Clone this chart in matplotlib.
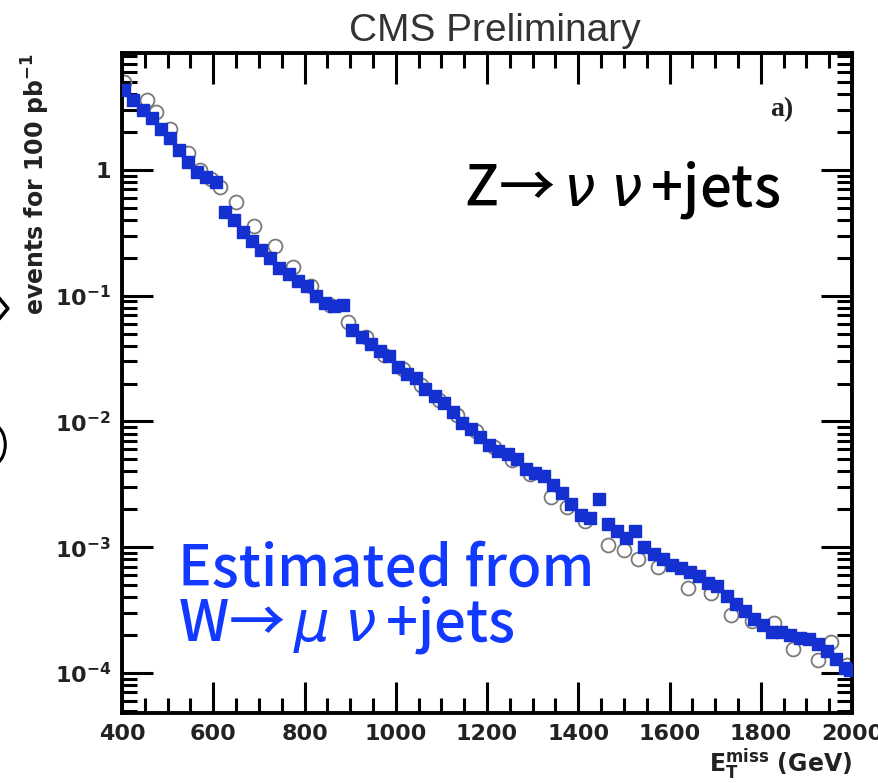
import math

import matplotlib

matplotlib.use("Agg")

import matplotlib.pyplot as plt
from matplotlib import ticker
from matplotlib.lines import Line2D
from matplotlib.patches import Arc

# Missing-ET spectrum: blue = estimate from W->mu nu + jets, open = Z->nu nu + jets MC
met_est = [405, 425, 445, 465, 485, 505, 525, 545, 565, 585,
           605, 625, 645, 665, 685, 705, 725, 745, 765, 785,
           805, 825, 845, 865, 885, 905, 925, 945, 965, 985,
           1005, 1025, 1045, 1065, 1085, 1105, 1125, 1145, 1165, 1185,
           1205, 1225, 1245, 1265, 1285, 1305, 1325, 1345, 1365, 1385,
           1405, 1425, 1445, 1465, 1485, 1505, 1525, 1545, 1565, 1585,
           1605, 1625, 1645, 1665, 1685, 1705, 1725, 1745, 1765, 1785,
           1805, 1825, 1845, 1865, 1885, 1905, 1925, 1945, 1965, 1985, 1995]
events_est = [4.3, 3.6, 3.0, 2.6, 2.1, 1.8, 1.45, 1.15, 0.97, 0.88,
              0.80, 0.46, 0.40, 0.32, 0.27, 0.23, 0.20, 0.165, 0.148, 0.13,
              0.12, 0.10, 0.088, 0.082, 0.085, 0.053, 0.047, 0.041, 0.036, 0.033,
              0.027, 0.024, 0.022, 0.018, 0.0158, 0.0140, 0.0118, 0.0098, 0.0087, 0.0075,
              0.0065, 0.0058, 0.0055, 0.0050, 0.0042, 0.0039, 0.0037, 0.0031, 0.0027, 0.0022,
              0.0018, 0.0017, 0.0024, 0.00152, 0.00135, 0.00118, 0.00135, 0.00100, 0.00088, 0.00080,
              0.00072, 0.00068, 0.00063, 0.00059, 0.00052, 0.00049, 0.00041, 0.00035, 0.00031, 0.00027,
              0.00024, 0.00021, 0.00021, 0.00020, 0.00019, 0.000185, 0.00017, 0.000150, 0.000128,
              0.000110, 0.000105]

met_mc = [405, 455, 475, 505, 545, 570, 595, 615, 650, 690,
          735, 775, 815, 855, 895, 935, 975, 1015, 1055, 1095,
          1135, 1175, 1215, 1255, 1295, 1340, 1375, 1415, 1465, 1500,
          1530, 1575, 1640, 1690, 1735, 1780, 1830, 1870, 1925, 1955, 1990]
events_mc = [5.0, 3.6, 2.9, 2.1, 1.37, 1.0, 0.85, 0.73, 0.56, 0.36,
             0.25, 0.17, 0.12, 0.085, 0.062, 0.047, 0.034, 0.026, 0.0195, 0.0148,
             0.0112, 0.0084, 0.0063, 0.0049, 0.0038, 0.0025, 0.0021, 0.0016, 0.00104, 0.00095,
             0.00080, 0.00070, 0.00047, 0.00043, 0.00029, 0.00026, 0.00025, 0.000155, 0.000126,
             0.000175, 0.000115]

x_ticks = [400, 600, 800, 1000, 1200, 1400, 1600, 1800, 2000]

ROOT_INK = "#222222"
EST_BLUE = "#1530d0"
NOTE_BLUE = "#1239ff"

plt.rcParams["mathtext.fontset"] = "dejavusans"

fig = plt.figure(figsize=(8.79, 7.83), dpi=100)
ax = fig.add_axes([0.1388, 0.0894, 0.8305, 0.8429])

ax.plot(met_mc, events_mc, "o", mfc="none", mec="#7a7a7a", mew=1.3, ms=10, zorder=2)
ax.errorbar(met_est, events_est, xerr=10, fmt="s", color=EST_BLUE, ms=8,
            elinewidth=3, capsize=0, zorder=3)

ax.set_yscale("log")
ax.set_xlim(400, 2000)
ax.set_ylim(4.8e-5, 8.5)

ax.set_xticks(x_ticks)
ax.xaxis.set_minor_locator(ticker.MultipleLocator(50))
ax.yaxis.set_major_locator(ticker.LogLocator(base=10, numticks=10))
ax.yaxis.set_minor_locator(ticker.LogLocator(base=10, subs=range(2, 10), numticks=20))
ax.yaxis.set_minor_formatter(ticker.NullFormatter())


def _decade(v, _pos):
    if abs(v - 1) < 1e-9:
        return "1"
    return r"$\mathbf{10^{%d}}$" % int(round(math.log10(v)))


ax.yaxis.set_major_formatter(ticker.FuncFormatter(_decade))

ax.tick_params(which="both", direction="in", top=True, right=True,
               width=2.2, color="black", labelsize=16, labelcolor=ROOT_INK)
ax.tick_params(which="major", length=22, pad=8)
ax.tick_params(which="minor", length=11)
for lab in ax.get_xticklabels() + ax.get_yticklabels():
    lab.set_fontweight("bold")
for sp in ax.spines.values():
    sp.set_linewidth(2.8)

ax.set_ylabel(r"events for 100 pb$^{\mathbf{-1}}$", fontsize=17, fontweight="bold",
              color=ROOT_INK, loc="top", labelpad=2)
ax.set_xlabel(r"$\mathbf{E_T^{miss}}$ (GeV)", fontsize=17, fontweight="bold",
              color=ROOT_INK, loc="right", labelpad=2)

fig.text(0.563, 0.960, "CMS Preliminary", ha="center", va="center",
         fontsize=28, color="#333333", family="Liberation Sans")
ax.text(0.92, 0.905, "a)", transform=ax.transAxes, fontsize=20, ha="right",
        fontweight="bold", family="Liberation Serif", color=ROOT_INK)

note_kw = dict(fontsize=40.5, fontweight="medium", family="Noto Sans CJK JP",
               va="baseline")
fig.text(0.528, 0.737, r"Z→$\,\nu\;\nu\,$+jets", color="black", **note_kw)
fig.text(0.203, 0.252, "Estimated from", color=NOTE_BLUE, **note_kw)
fig.text(0.203, 0.182, r"W→$\,\mu\;\nu\,$+jets", color=NOTE_BLUE, **note_kw)

# slide leftovers cut off at the left margin
fig.add_artist(Line2D([0.0, 0.009, 0.0], [0.618, 0.606, 0.594],
                      transform=fig.transFigure, color="black", lw=2.5))
fig.add_artist(Arc((-0.012, 0.432), 0.036, 0.055, theta1=-70, theta2=70,
                   transform=fig.transFigure, color="black", lw=2.2))

fig.savefig("out.png", dpi=100)
